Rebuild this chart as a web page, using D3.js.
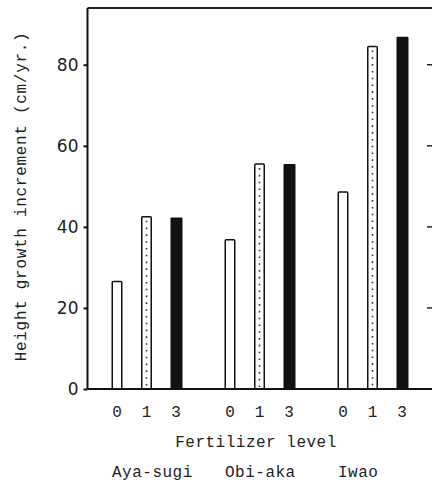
<!DOCTYPE html>
<html><head><meta charset="utf-8">
<script src="https://cdn.jsdelivr.net/npm/d3@7"></script>
<style>
html,body{margin:0;padding:0;background:#fff;}
svg{display:block;}
text{font-family:"Liberation Mono","DejaVu Sans Mono",monospace;fill:#222;}
</style></head>
<body>
<script>
const cultivars = ["Aya-sugi", "Obi-aka", "Iwao"];
const levels = ["0", "1", "3"];
const level0 = [26.5, 36.8, 48.6];
const level1 = [42.5, 55.5, 84.5];
const level3 = [42.3, 55.5, 86.9];
const yTicks = [0, 20, 40, 60, 80];

const W = 432, H = 486;
const svg = d3.select("body").append("svg").attr("width", W).attr("height", H);

const y = d3.scaleLinear().domain([0, 94]).range([389, 8]);
const xg = d3.scaleBand().domain(cultivars).range([90, 429]);
const xi = d3.scalePoint().domain(levels).range([27, 86]);

const data = [];
cultivars.forEach((c, i) => {
  data.push({c, l: "0", v: level0[i]});
  data.push({c, l: "1", v: level1[i]});
  data.push({c, l: "3", v: level3[i]});
});
const cx = d => xg(d.c) + xi(d.l);

// frame
const ax = 87.5;
svg.append("line").attr("x1", ax).attr("x2", ax).attr("y1", y(94)).attr("y2", y(0)).attr("stroke", "#111").attr("stroke-width", 2);
svg.append("line").attr("x1", ax).attr("x2", W).attr("y1", y(94)).attr("y2", y(94)).attr("stroke", "#222").attr("stroke-width", 2);

// bars
const bw = 11;
const g = svg.append("g");
data.forEach(d => {
  const x0 = cx(d) - bw / 2;
  if (d.l === "3") {
    g.append("rect").attr("x", x0).attr("y", y(d.v)).attr("width", bw + 1).attr("height", y(0) - y(d.v))
      .attr("fill", "#111").attr("rx", 1);
  } else {
    g.append("rect").attr("x", x0 + 0.75).attr("y", y(d.v)).attr("width", bw - 1.5).attr("height", y(0) - y(d.v))
      .attr("fill", "#fff").attr("stroke", "#111").attr("stroke-width", 1.5).attr("rx", 1);
    if (d.l === "1") {
      g.append("line").attr("x1", cx(d)).attr("x2", cx(d)).attr("y1", y(d.v) + 4).attr("y2", y(0) - 2)
        .attr("stroke", "#333").attr("stroke-width", 1.6).attr("stroke-dasharray", "1.6,5.2");
    }
  }
});

// baseline
svg.append("line").attr("x1", ax).attr("x2", W).attr("y1", y(0)).attr("y2", y(0)).attr("stroke", "#111").attr("stroke-width", 2);

// y axis
const yAxis = d3.axisLeft(y).tickValues(yTicks).tickSize(4).tickPadding(5).tickFormat(d3.format("d"));
const ya = svg.append("g").attr("transform", `translate(${ax},0)`).call(yAxis);
ya.select(".domain").remove();
ya.selectAll(".tick line").attr("stroke", "#111").attr("stroke-width", 2);
ya.selectAll(".tick text").style("font-family", "'DejaVu Sans',sans-serif").attr("font-size", 17).attr("fill", "#333");

// right panel stub ticks
svg.append("g").selectAll("line").data(yTicks.filter(t => t > 0)).join("line")
  .attr("x1", 427).attr("x2", W).attr("y1", d => y(d)).attr("y2", d => y(d)).attr("stroke", "#222").attr("stroke-width", 1.5);

// x tick labels
svg.append("g").selectAll("text").data(data).join("text")
  .attr("x", d => cx(d)).attr("y", 417).attr("text-anchor", "middle").attr("font-size", 16)
  .text(d => d.l);

// x title
svg.append("text").attr("x", 256).attr("y", 447).attr("text-anchor", "middle").attr("font-size", 16)
  .attr("letter-spacing", 0.5).text("Fertilizer level");

// cultivar names
svg.append("g").selectAll("text").data(cultivars).join("text")
  .attr("x", d => xg(d) + xi("0") - 5).attr("y", 477).attr("text-anchor", "start").attr("font-size", 16)
  .attr("letter-spacing", 0.5).text(d => d);

// y title
svg.append("text").attr("transform", `translate(26,${y(47.5)}) rotate(-90)`).attr("text-anchor", "middle")
  .attr("font-size", 16).attr("letter-spacing", 0.7).text("Height growth increment (cm/yr.)");
</script>
</body></html>
